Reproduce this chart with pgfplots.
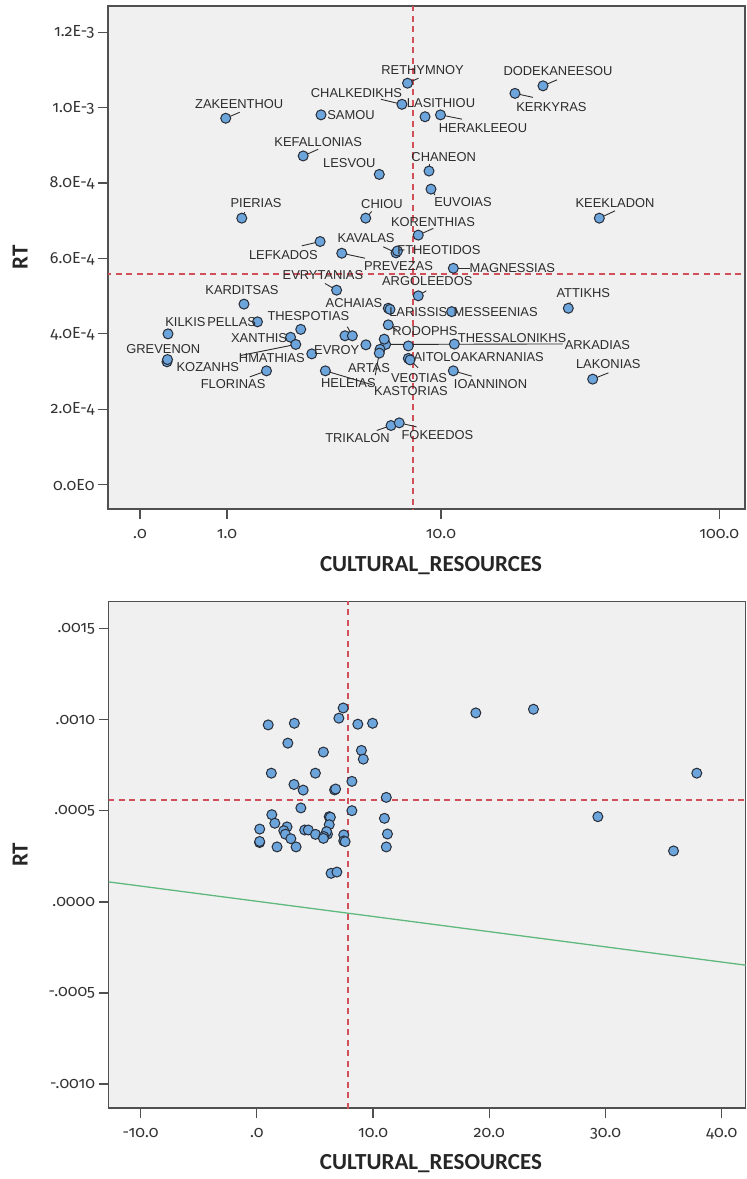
\documentclass[border=0pt]{standalone}
\usepackage{pgfplots}
\pgfplotsset{compat=1.18}
\usepackage{pgfplotstable}
\usepackage{fontspec}
\setmainfont{Carlito}
\newfontfamily\tickfont{Fira Sans}[Numbers=OldStyle]
\newfontfamily\lblfont{Liberation Sans}
\definecolor{bggray}{RGB}{240,240,240}
\definecolor{ptfill}{RGB}{108,164,220}
\definecolor{ptdraw}{RGB}{40,45,55}
\definecolor{refred}{RGB}{210,80,90}
\definecolor{fitgreen}{RGB}{95,185,125}
\definecolor{framegray}{RGB}{80,80,80}
\definecolor{lblgray}{RGB}{45,45,45}

\pgfplotstableread{
name cr rt lx ly qx qy
RETHYMNOY 7.43 0.001065 15 13.3 11 5
CHALKEDIKHS 7.06 0.001009 -45.5 11 -21 5
ZAKEENTHOU 0.98 0.000972 13.5 14.3 14 6
SAMOU 3.23 0.000981 30 0 0 0
LASITHIOU 8.69 0.000976 16 13.4 0 0
HERAKLEEOU 9.96 0.000981 42.5 -12.7 21.5 -4.3
DODEKANEESOU 23.8 0.001058 15 14.3 14 6
KERKYRAS 18.84 0.001038 36.5 -14 18 -4
KEFALLONIAS 2.67 0.000872 15 14.3 15 6.7
LESVOU 5.73 0.000823 -30 11 0 0
CHANEON 9.00 0.000832 14.7 14.3 0 7
EUVOIAS 9.16 0.000784 32 -13 4 -6
PIERIAS 1.25 0.000707 14.3 15 3 6
CHIOU 5.04 0.000707 16.3 14.3 6 6.7
KORENTHIAS 8.18 0.000662 14.7 13.3 15 6.7
LEFKADOS 3.20 0.000645 -36.7 -13.3 -18.3 -4.3
KAVALAS 6.69 0.000615 -30 14.4 -12.7 6
FTHEOTIDOS 6.78 0.000620 41.5 1 0 0
PREVEZAS 3.99 0.000614 56.7 -12.7 23.3 -5
EVRYTANIAS 3.79 0.000516 -13.7 15 -11.7 6.7
ARGOLEEDOS 8.18 0.000501 9 14.3 8 5
MAGNESSIAS 11.14 0.000574 59 0 16.7 0
KEEKLADON 37.85 0.000707 15.7 15 15.7 7.3
ATTIKHS 29.34 0.000468 15 15 2 6
MESSEENIAS 10.98 0.000459 44 0 0 0
ACHAIAS 6.23 0.000468 -34.3 5 0 0
LARISSIS 6.33 0.000465 28.3 -2.2 0 0
RODOPHS 6.23 0.000424 36.7 -6.7 8.4 -5
KARDITSAS 1.29 0.000479 -2 14 0 0
KILKIS 0.25 0.000400 17.4 12.3 3 5
PELLAS 1.55 0.000432 -25.8 0 0 0
KOZANHS 0.24 0.000326 40.8 -5.6 0 0
GREVENON 0.245 0.000332 -4.2 10.5 0 0
THESPOTIAS 2.60 0.000412 7.6 13.3 0 0
XANTHIS 2.32 0.000391 -31.5 -1 0 0
HMATHIAS 2.46 0.000372 -24 -13.4 -55 -11
EVROY 2.93 0.000347 25 4 0 0
FLORINAS 1.74 0.000302 -33.4 -13.3 -16.7 -6
HELEIAS 3.38 0.000302 23 -12.6 47 -14
{} 4.12 0.000395 0 0 0 0
{} 4.43 0.000395 0 0 -5 9
{} 5.05 0.000371 0 0 0 0
ARKADIAS 6.08 0.000372 211.8 -0.7 177 0.5
{} 6.00 0.000386 0 0 0 0
ARTAS 5.77 0.000359 -11 -19 0 0
KASTORIAS 5.73 0.000349 31.7 -38.4 -4 -22
{} 7.48 0.000368 0 0 0 0
THESSALONIKHS 11.24 0.000373 57.7 5.7 0 0
AITOLOAKARNANIAS 7.48 0.000335 70.4 1 0 0
VEOTIAS 7.60 0.000331 9 -18.3 8 -8
IOANNINON 11.14 0.000302 37.2 -13.3 18.3 -5.3
LAKONIAS 35.85 0.000280 15.6 15 15.7 6.3
TRIKALON 6.39 0.000157 -33.5 -12.6 -14.3 -5
FOKEEDOS 6.89 0.000164 38.2 -12.3 17.3 -4
}\regions

\pgfplotsset{
  panel/.style={
    scale only axis,
    scaled ticks=false,
    axis background/.style={fill=bggray},
    axis line style={framegray, line width=1.2pt},
    tick style={framegray, line width=1.2pt},
    tick align=outside,
    major tick length=10pt,
    xtick pos=bottom, ytick pos=left,
    tick label style={font=\tickfont\fontsize{16}{19}\selectfont, text=black!80},
    xticklabel style={yshift=-7pt},
    /pgf/number format/assume math mode=true,
    label style={font=\bfseries\fontsize{23}{26}\selectfont, text=black!85},
  },
  pts/.style={only marks, mark=*, mark size=5pt,
    mark options={fill=ptfill, draw=ptdraw, line width=1pt}},
  refline/.style={draw=refred, line width=1.8pt, dash pattern=on 6pt off 4.5pt},
}

\begin{document}
\begin{tikzpicture}
\useasboundingbox (0,0) rectangle (747pt,-1179pt);

% ---------- top panel (safe-log x) ----------
\begin{axis}[panel, at={(108pt,-6pt)}, anchor=north west,
  width=637pt, height=503pt,
  xmin=-0.1107, xmax=2.0934, ymin=-0.0000645, ymax=0.00126976,
  xtick={0,0.30103,1.041393,2.004321}, xticklabels={.0,1.0,10.0,100.0},
  ytick={0,0.0002,0.0004,0.0006,0.0008,0.001,0.0012},
  yticklabels={0.0E0,2.0E-4,4.0E-4,6.0E-4,8.0E-4,1.0E-3,1.2E-3},
  xlabel={CULTURAL\_RESOURCES}, ylabel={RT},
  xlabel style={at={(axis description cs:0.507,-0.112)}, anchor=center},
  ylabel style={at={(axis description cs:-0.138,0.5)}, anchor=center},
]
\addplot[refline] table[x expr={ln(\thisrow{x}+1)/ln(10)}, y=y, row sep=\\]
  {x y\\ 7.83 -0.001\\ 7.83 0.002\\};
\addplot[refline] table[x expr={ln(\thisrow{x}+1)/ln(10)}, y=y, row sep=\\]
  {x y\\ -0.5 0.000558\\ 200 0.000558\\};
\addplot[lblgray, line width=0.9pt,
  quiver={u=\thisrow{qx}/289, v=\thisrow{qy}*2.6525e-6}]
  table[x expr={ln(\thisrow{cr}+1)/ln(10)}, y=rt] {\regions};
\addplot[pts] table[x expr={ln(\thisrow{cr}+1)/ln(10)}, y=rt] {\regions};
\addplot[only marks, mark=none, point meta=explicit symbolic,
  nodes near coords,
  visualization depends on={\thisrow{lx} \as \lblx},
  visualization depends on={\thisrow{ly} \as \lbly},
  every node near coord/.append style={anchor=center, inner sep=0pt,
    xshift=\lblx pt, yshift=\lbly pt,
    font=\lblfont\fontsize{12.9}{14}\selectfont, text=lblgray},
] table[x expr={ln(\thisrow{cr}+1)/ln(10)}, y=rt, meta=name] {\regions};
\end{axis}

% ---------- bottom panel (linear x) ----------
\begin{axis}[panel, at={(108.6pt,-601.5pt)}, anchor=north west,
  width=637pt, height=506.5pt,
  xmin=-12.75, xmax=42.05, ymin=-0.0011318, ymax=0.0016497,
  xtick={-10,0,10,20,30,40}, xticklabels={-10.0,.0,10.0,20.0,30.0,40.0},
  ytick={-0.001,-0.0005,0,0.0005,0.001,0.0015},
  yticklabels={-.0010,-.0005,.0000,.0005,.0010,.0015},
  xlabel={CULTURAL\_RESOURCES}, ylabel={RT},
  xlabel style={at={(axis description cs:0.506,-0.1106)}, anchor=center},
  ylabel style={at={(axis description cs:-0.139,0.5)}, anchor=center},
]
\addplot[refline] coordinates {(7.83,-0.002) (7.83,0.002)};
\addplot[refline] coordinates {(-20,0.000558) (50,0.000558)};
\addplot[fitgreen, line width=1.3pt] coordinates {(-12.75,0.00011) (42.05,-0.0003474)};
\addplot[pts] table[x=cr, y=rt] {\regions};
\end{axis}
\end{tikzpicture}
\end{document}
